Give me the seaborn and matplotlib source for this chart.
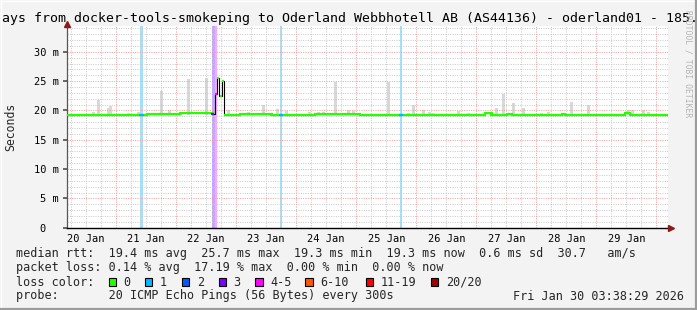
import numpy as np
import pandas as pd
import seaborn as sns
import matplotlib
matplotlib.use("Agg")
import matplotlib.pyplot as plt
from matplotlib.lines import Line2D
from matplotlib.patches import Rectangle

# ---------------- data ----------------
# time axis in days after 20 Jan 00:00
day_labels = ["20 Jan", "21 Jan", "22 Jan", "23 Jan", "24 Jan",
              "25 Jan", "26 Jan", "27 Jan", "28 Jan", "29 Jan"]

# median rtt (ms) as step segments: start time, value, loss class
median_t = [0.18, 1.40, 1.44, 1.513, 1.73, 2.063, 2.60, 2.64, 2.68, 2.72, 2.76,
            2.80, 3.063, 3.592, 3.73, 3.765, 4.313, 5.063, 5.73, 5.765, 7.147,
            7.258, 7.513, 7.597, 8.43, 8.48, 9.48, 9.563, 10.2]
median_v = [19.3, 19.3, 19.3, 19.45, 19.35, 19.5, 19.4, 22.8, 25.6, 22.4, 25.1,
            19.25, 19.4, 19.3, 19.3, 19.3, 19.4, 19.3, 19.3, 19.3, 19.55,
            19.3, 19.45, 19.3, 19.45, 19.3, 19.5, 19.3, 19.3]
median_loss = [0, 1, 0, 0, 0, 0, 3, 4, 0, 0, 0,
               0, 0, 0, 1, 0, 0, 0, 1, 0, 0,
               0, 0, 0, 0, 0, 0, 0, 0]

# smoke (max ping) bars: time, top value (ms)
smoke_t = [0.618, 0.702, 0.868, 0.913, 1.208, 1.368, 1.75, 1.88, 2.202, 2.497,
           2.868, 3.205, 3.452, 3.692, 3.838, 4.227, 4.368, 4.452, 4.655, 4.868,
           4.952, 5.535, 5.868, 5.952, 6.118, 6.218, 6.28, 6.563, 6.697, 6.868,
           7.33, 7.452, 7.618, 7.785, 8.088, 8.202, 8.58, 8.868, 9.53, 9.597,
           9.785, 9.863]
smoke_v = [19.7, 21.7, 20.4, 20.8, 19.5, 19.7, 23.3, 20.0, 25.4, 25.6,
           20.1, 19.8, 21.0, 20.3, 19.9, 19.8, 19.8, 19.8, 24.9, 20.0,
           19.9, 24.9, 19.6, 21.0, 20.1, 19.7, 19.5, 19.4, 19.9, 19.6,
           20.4, 22.8, 21.2, 20.4, 19.5, 19.7, 21.4, 21.0, 20.0, 20.0,
           20.0, 19.7]

loss_names = ["0", "1", "2", "3", "4-5", "6-10", "11-19", "20/20"]
loss_colors = ["#26ff00", "#00b8ff", "#0059ff", "#7e00ff", "#ff00ff",
               "#ff5500", "#ff0000", "#a10000"]
loss_band_colors = ["#ffffff", "#a8dff8", "#a8c0ff", "#c8a6ff", "#ffa6ff",
                    "#ffc0a0", "#ffa0a0", "#e0a0a0"]

stats_lines = [
    "median rtt:  19.4 ms avg  25.7 ms max  19.3 ms min  19.3 ms now  0.6 ms sd  30.7   am/s",
    "packet loss: 0.14 % avg  17.19 % max  0.00 % min  0.00 % now",
]
probe_text = "probe:       20 ICMP Echo Pings (56 Bytes) every 300s"
date_text = "Fri Jan 30 03:38:29 2026"
title_text = "ays from docker-tools-smokeping to Oderland Webbhotell AB (AS44136) - oderland01 - 185."

# ---------------- style ----------------
sns.set_theme(style="white")
MONO = ["DejaVu Sans Mono"]
plt.rcParams["font.family"] = MONO

W, H = 697, 310
fig = plt.figure(figsize=(W / 100, H / 100), dpi=100)
fig.patch.set_facecolor("#f3f3f3")

def fx(x):
    return x / W

def fy(y):
    return 1 - y / H

left_px, right_px, top_px, bot_px = 67, 668.3, 26, 227.7
ax = fig.add_axes([fx(left_px), fy(bot_px), (right_px - left_px) / W, (bot_px - top_px) / H])
ax.set_facecolor("white")
ax.set_xlim(0.18, 10.2)
ax.set_ylim(0, 34.4)

# loss background bands
for i, L in enumerate(median_loss[:-1]):
    if L > 0:
        ax.axvspan(median_t[i], median_t[i + 1], color=loss_band_colors[L], lw=0, zorder=1)

# smoke bars
ax.bar(smoke_t, np.array(smoke_v) - 19.2, bottom=19.2, width=0.05,
       color="#d8d8d8", lw=0, zorder=1.2)

# grid
dot = (0, (1, 1.4))
for d in np.arange(0.25, 10.2, 0.25):
    if abs(d - round(d)) > 1e-6:
        ax.axvline(d, color="#c8c8c8", lw=0.7, ls=dot, zorder=1.5)
for v in range(1, 35):
    if v % 5:
        ax.axhline(v, color="#c8c8c8", lw=0.7, ls=dot, zorder=1.5)
for d in range(1, 11):
    ax.axvline(d, color="#f09a9a", lw=0.7, ls=dot, zorder=1.6)
for v in range(5, 35, 5):
    ax.axhline(v, color="#f09a9a", lw=0.7, ls=dot, zorder=1.6)

# median line: black step line plus loss-coloured horizontal pieces
df = pd.DataFrame({"t": median_t, "v": median_v})
sns.lineplot(data=df, x="t", y="v", drawstyle="steps-post", color="black",
             lw=0.8, ax=ax, zorder=3)
for i in range(len(median_t) - 1):
    big_left = i > 0 and abs(median_v[i] - median_v[i - 1]) > 1
    big_right = abs(median_v[i + 1] - median_v[i]) > 1
    pad = 0.022
    x0 = median_t[i] + (0.004 if big_left else -pad)
    x1 = median_t[i + 1] - (0.004 if big_right else -pad)
    ax.hlines(median_v[i], x0, x1,
              color=loss_colors[median_loss[i]], lw=1.6, zorder=4 + (median_loss[i] > 0))

ax.set_xlabel("")
ax.set_ylabel("")

# ticks
ax.set_xticks(range(1, 11))
ax.set_xticklabels([""] * 10)
ax.set_xticks(np.arange(0.5, 10, 1), minor=True)
ax.set_xticklabels(day_labels, minor=True)
ax.tick_params(axis="x", which="major", length=2, color="#f09a9a", direction="out")
ax.tick_params(axis="x", which="minor", length=0, pad=4.5, labelsize=7.5, labelcolor="#000000")
ax.set_yticks(range(0, 35, 5))
ax.set_yticklabels(["0  "] + [f"{v} m" for v in range(5, 35, 5)])
ax.tick_params(axis="y", which="major", length=3, color="#555555", direction="out",
               pad=3, labelsize=7.5, labelcolor="#000000", left=True)

for s in ["top", "right"]:
    ax.spines[s].set_visible(False)
ax.spines["left"].set_color("#555555")
ax.spines["left"].set_linewidth(0.9)
ax.spines["bottom"].set_color("#000000")
ax.spines["bottom"].set_linewidth(1.0)

# arrows
ax.plot([0], [1.012], marker="^", color="#8b1a1a", ms=4.5, transform=ax.transAxes,
        clip_on=False, zorder=6)
ax.plot([1.004], [0], marker=">", color="#8b1a1a", ms=4.5, transform=ax.transAxes,
        clip_on=False, zorder=6)

# texts
fig.text(fx(2), fy(18.5), title_text, ha="left", va="center", fontsize=9.5, color="black")
fig.text(fx(11), fy(127), "Seconds", rotation=90, ha="center", va="center", fontsize=8.3)
fig.text(fx(688), fy(64), "RRDTOOL / TOBI OETIKER", rotation=270, ha="center", va="center",
         fontsize=5.8, color="#b4b4b4")

LEG = 8.5
fig.text(fx(16), fy(254), stats_lines[0], ha="left", va="center", fontsize=LEG)
fig.text(fx(16), fy(268), stats_lines[1], ha="left", va="center", fontsize=LEG)
fig.text(fx(16), fy(282), "loss color:", ha="left", va="center", fontsize=LEG)
leg_text_x = [123.3, 160, 196.7, 233.3, 270, 320, 380.7, 445.7]
for name, col, tx in zip(loss_names, loss_colors, leg_text_x):
    sx = tx - 14.8
    fig.patches.append(Rectangle((fx(sx), fy(285.7)), 7.3 / W, 7.3 / H,
                                 transform=fig.transFigure, facecolor=col,
                                 edgecolor="black", lw=0.8))
    fig.text(fx(tx), fy(282), name, ha="left", va="center", fontsize=LEG)
fig.text(fx(16), fy(296), probe_text, ha="left", va="center", fontsize=LEG)
fig.text(fx(513.3), fy(296), date_text, ha="left", va="center", fontsize=LEG)

# 3D frame
fig.add_artist(Line2D([0, 1], [fy(0.5), fy(0.5)], transform=fig.transFigure, color="#ffffff", lw=1))
fig.add_artist(Line2D([fx(0.5), fx(0.5)], [0, 1], transform=fig.transFigure, color="#ffffff", lw=1))
fig.add_artist(Line2D([0, 1], [fy(308.8), fy(308.8)], transform=fig.transFigure, color="#9c9c9c", lw=1.6))
fig.add_artist(Line2D([fx(695.8), fx(695.8)], [0, 1], transform=fig.transFigure, color="#9c9c9c", lw=1.6))

fig.savefig("out.png", dpi=100, facecolor=fig.get_facecolor())
